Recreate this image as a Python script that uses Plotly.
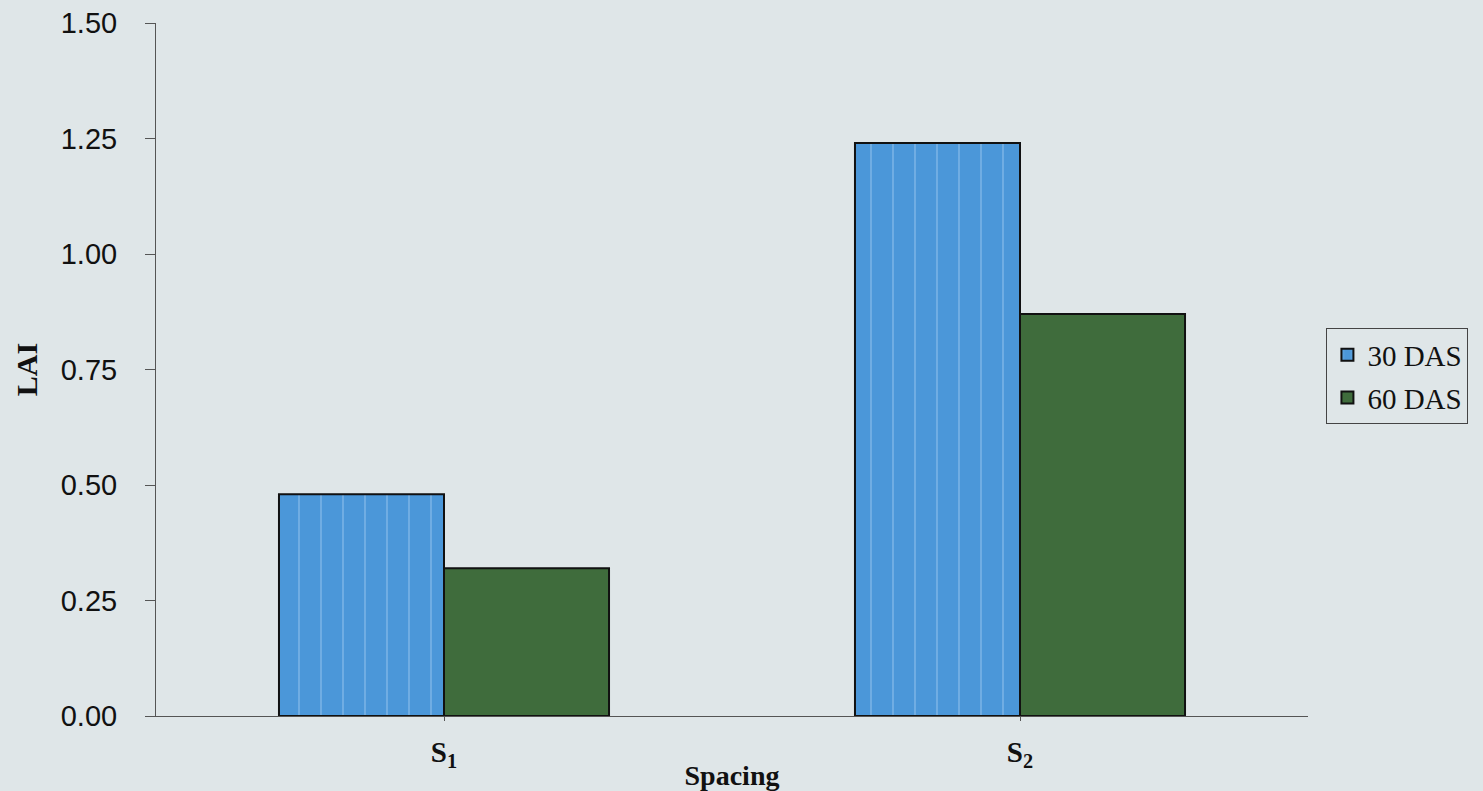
import plotly.graph_objects as go

categories = ["S1", "S2"]
tick_labels = ["<b>S<sub>1</sub></b>", "<b>S<sub>2</sub></b>"]
das30 = [0.48, 1.24]
das60 = [0.32, 0.87]
y_ticks = [0.0, 0.25, 0.5, 0.75, 1.0, 1.25, 1.5]

bg = "#dfe6e8"
serif = "Liberation Serif, Times New Roman, serif"
sans = "Liberation Sans, Arial, sans-serif"

fig = go.Figure()
fig.add_trace(go.Bar(
    x=categories, y=das30, name="30 DAS", legendgroup="a",
    marker=dict(color="#4b97d9", line=dict(color="#111111", width=2),
                pattern=dict(shape="|", fgcolor="#a9d0f2", size=22, solidity=0.07)),
))
fig.add_trace(go.Bar(
    x=categories, y=das60, name="60 DAS", legendgroup="b",
    marker=dict(color="#3f6c3c", line=dict(color="#111111", width=2)),
))

fig.update_layout(
    width=1483, height=791,
    paper_bgcolor=bg, plot_bgcolor=bg,
    margin=dict(l=156, r=175, t=23, b=75),
    barmode="group", bargap=0.427, bargroupgap=0,
    showlegend=True,
    legend=dict(x=1.016, y=0.49, xanchor="left", yanchor="middle",
                bordercolor="#444444", borderwidth=1, bgcolor=bg,
                font=dict(family=serif, size=29, color="#111111"),
                itemwidth=30, traceorder="grouped", tracegroupgap=2),
    xaxis=dict(
        tickmode="array", tickvals=categories, ticktext=tick_labels,
        tickfont=dict(family=serif, size=29, color="#111111"),
        showline=True, linecolor="#555555", linewidth=1,
        ticks="outside", ticklen=4, tickcolor="#555555",
        ticklabelstandoff=6, automargin=False,
        showgrid=False, zeroline=False,
        title=dict(text="<b>Spacing</b>", font=dict(family=serif, size=28, color="#111111"), standoff=0),
    ),
    yaxis=dict(
        range=[0, 1.5], tickmode="array", tickvals=y_ticks,
        tickformat=".2f",
        tickfont=dict(family=sans, size=29, color="#111111"),
        showline=True, linecolor="#555555", linewidth=1,
        ticks="outside", ticklen=10, tickcolor="#555555",
        ticklabelstandoff=22, automargin=False,
        showgrid=False, zeroline=False,
        title=dict(text="<b>LAI</b>", font=dict(family=serif, size=30, color="#111111"), standoff=14),
    ),
)

fig.write_html("out.html", config={"displayModeBar": False},
               post_script="document.body.style.margin='0';")
